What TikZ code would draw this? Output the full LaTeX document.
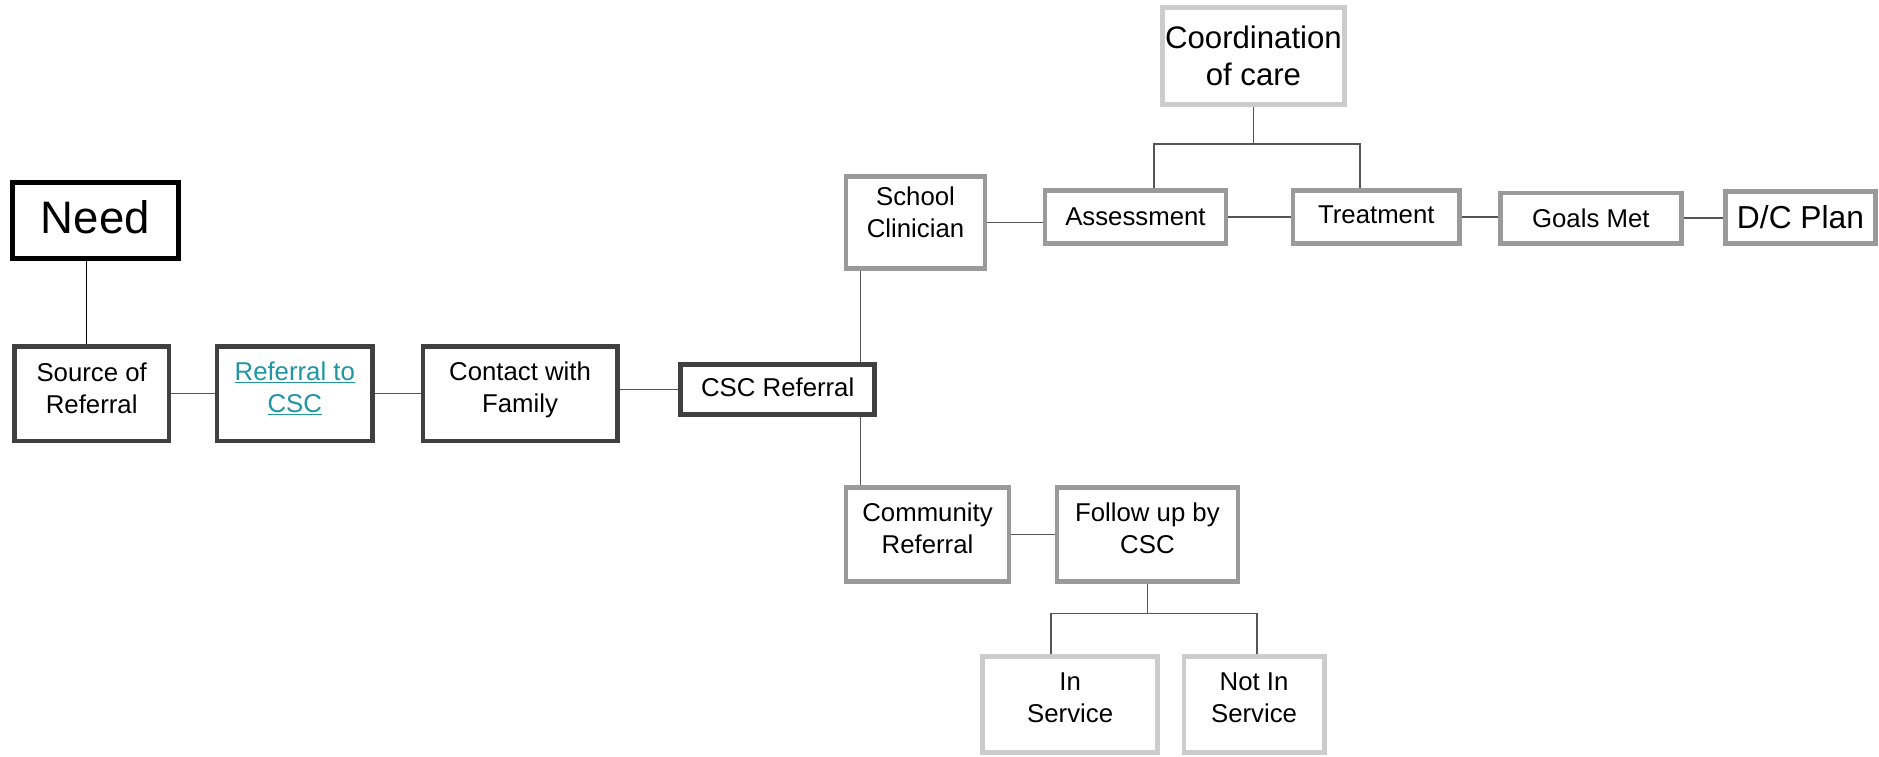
\documentclass[tikz,border=0pt]{standalone}
\usepackage{fontspec}
\setmainfont{Liberation Sans}
\definecolor{darkb}{HTML}{404040}
\definecolor{midb}{HTML}{9A9A9A}
\definecolor{lightb}{HTML}{CCCCCC}
\definecolor{conn}{HTML}{555555}
\definecolor{linkc}{RGB}{32,150,165}
\tikzset{
  box/.style 2 args={draw, line width=4pt, inner sep=0pt, fill=white,
    minimum width=#1, minimum height=#2},
  tx/.style={inner sep=0pt, align=center, font=\fontsize{21.5}{26.5}\selectfont},
  bigtx/.style={tx, font=\fontsize{26}{31}\selectfont},
  darkbox/.style={draw=darkb},
  midbox/.style={draw=midb},
  lightbox/.style={draw=lightb},
  link/.style={draw=conn, line width=1.3pt},
}
\begin{document}
\begin{tikzpicture}[x=1pt,y=-1pt]
\useasboundingbox (0,0) rectangle (1568,631);
% nodes
\node[box={138.5pt}{63.5pt}, draw=black, line width=4.5pt,
  label={[tx, font=\fontsize{38}{44}\selectfont, yshift=2.5pt]center:Need}] (need) at (79.5,184) {};
\node[box={129pt}{79pt}, darkbox, label={[tx, yshift=4.5pt]center:{Source of\\Referral}}] (src) at (76.5,328.5) {};
\node[box={130pt}{79pt}, darkbox, label={[tx, text=linkc, yshift=4.5pt]center:{\underline{Referral to}\\\underline{CSC}}}] (ref) at (246,328.5) {};
\node[box={162pt}{79pt}, darkbox, label={[tx, yshift=3.5pt]center:{Contact with\\Family}}] (contact) at (434,328.5) {};
\node[box={162pt}{42pt}, darkbox, label={[tx, yshift=1.5pt]center:CSC Referral}] (csc) at (649,325) {};
\node[box={116pt}{77pt}, midbox, label={[tx, yshift=8.5pt]center:{School\\Clinician}}] (school) at (764,185.5) {};
\node[box={151pt}{44pt}, midbox, label={[tx]center:Assessment}] (assess) at (947.5,181) {};
\node[box={139pt}{44pt}, midbox, label={[tx, yshift=2pt]center:Treatment}] (treat) at (1148.5,181) {};
\node[box={151pt}{42pt}, midbox, label={[tx]center:Goals Met}] (goals) at (1327.5,182) {};
\node[box={125pt}{43pt}, midbox, label={[bigtx, font=\fontsize{26.5}{31}\selectfont]center:D/C Plan}] (dc) at (1502.5,181.5) {};
\node[box={152pt}{81pt}, lightbox, label={[bigtx]center:{Coordination\\of care}}] (coord) at (1046,46.5) {};
\node[box={136pt}{78pt}, midbox, label={[tx, yshift=5pt]center:{Community\\Referral}}] (comm) at (774,446) {};
\node[box={151pt}{78pt}, midbox, label={[tx, yshift=5pt]center:{Follow up by\\CSC}}] (follow) at (957.5,446) {};
\node[box={146pt}{80pt}, lightbox, label={[tx, yshift=5.5pt]center:{In\\Service}}] (insvc) at (893,588) {};
\node[box={117pt}{80pt}, lightbox, label={[tx, yshift=6pt]center:{Not In\\Service}}] (notin) at (1046.5,588) {};
% helper coordinates
\coordinate (needx) at ([xshift=-7.5pt]need.south);
\coordinate (cscx) at ([xshift=-14pt]csc.north east);
\coordinate (coordbar) at ([yshift=-31pt]coord.south);
\coordinate (assx) at ([xshift=15.5pt]assess.north);
\coordinate (trx) at ([xshift=-13.5pt]treat.north);
\coordinate (follbar) at ([yshift=-25pt]follow.south);
\coordinate (inx) at ([xshift=-16pt]insvc.north);
\coordinate (notx) at ([xshift=2.5pt]notin.north);
% connectors
\draw[link, draw=black] (needx) -- (needx |- src.north);
\draw[link] (src.east) -- (ref.west);
\draw[link] (ref.east) -- (contact.west);
\draw[link] (csc.west -| contact.east) -- (csc.west);
\draw[link] (cscx |- school.south) -- (cscx);
\draw[link] (cscx |- csc.south) -- (cscx |- comm.north);
\draw[link] (school.east) -- (school.east -| assess.west);
\draw[link] (assess.east) -- (assess.east -| treat.west);
\draw[link] (treat.east) -- (treat.east -| goals.west);
\draw[link] (goals.east) -- (goals.east -| dc.west);
\draw[link] (coord.south) -- (coordbar);
\draw[link] (assx) -- (assx |- coordbar) -- (trx |- coordbar) -- (trx);
\draw[link] (comm.east) -- (comm.east -| follow.west);
\draw[link] (follow.south) -- (follbar);
\draw[link] (inx) -- (inx |- follbar) -- (notx |- follbar) -- (notx);
\end{tikzpicture}
\end{document}
